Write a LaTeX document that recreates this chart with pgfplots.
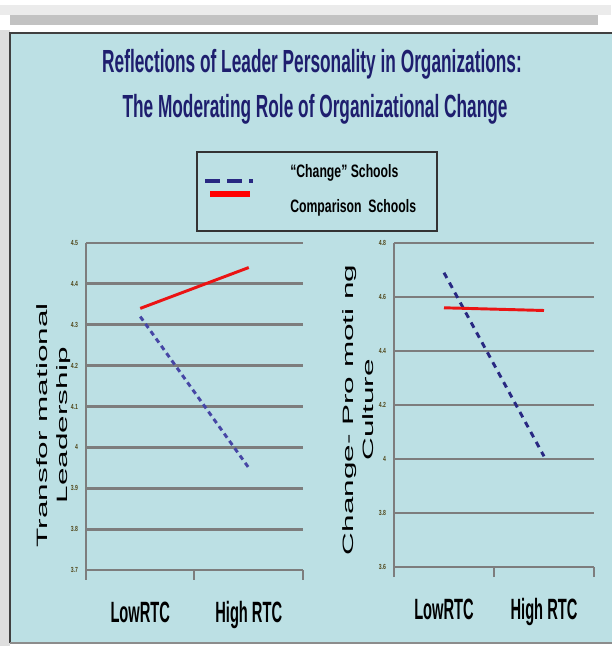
\documentclass[border=0pt]{standalone}
\usepackage{fontspec}
\setmainfont{Liberation Sans}
\newfontfamily\titlefont[FakeStretch=0.54]{Liberation Sans}
\newfontfamily\tickfont[FakeStretch=0.5]{Liberation Sans}
\newfontfamily\legfont[FakeStretch=0.68]{Liberation Sans}
\newfontfamily\labfont[FakeStretch=2.1]{Liberation Sans}
\newfontfamily\numfont[FakeStretch=0.7]{Liberation Sans}
\usepackage{pgfplots}
\pgfplotsset{compat=1.18}

\definecolor{panel}{RGB}{188,224,228}
\definecolor{gridgray}{RGB}{125,125,125}
\definecolor{navy}{RGB}{30,30,110}
\definecolor{chgblue}{RGB}{70,70,165}
\definecolor{chgblue2}{RGB}{40,40,130}
\definecolor{cmpred}{RGB}{235,20,20}
\definecolor{tickcol}{RGB}{80,70,25}

\pgfplotsset{
  rtc/.style={
    scale only axis,
    xmin=0, xmax=2,
    axis lines=left,
    axis line style={-, draw=gridgray, line width=1.6pt},
    ymajorgrids,
    grid style={draw=gridgray, line width=2.2pt},
    xtick={0.5,1.5},
    xticklabels={LowRTC, High RTC},
    minor xtick={0,1,2},
    tick align=outside,
    major tick length=2.5pt,
    minor tick length=7.5pt,
    major tick style={draw=none},
    minor tick style={draw=gridgray, line width=1.5pt},
    xticklabel style={font=\tickfont\bfseries\fontsize{22}{22}\selectfont,
      anchor=base, yshift=-37pt},
    /pgf/number format/assume math mode=true,
    yticklabel style={font=\numfont\bfseries\fontsize{5.5}{6}\selectfont, text=tickcol},
    clip=false,
  }
}

\begin{document}
\begin{tikzpicture}
\useasboundingbox (0,0) rectangle (458.25pt,484.5pt);
\begin{scope}[x=0.75pt,y=0.75pt]
  \fill[white] (0,0) rectangle (611,646);
  \fill[black!8] (0,631) rectangle (611,641);
  \fill[black!24] (10,621) rectangle (598,631);
  \fill[black!13] (0,0) rectangle (10,616);
  \fill[panel] (10,3) rectangle (615,613);
  \draw[black!75, line width=1.5pt] (10,3) -- (10,613) -- (615,613);
  \draw[black!45, line width=1pt] (10,3) -- (615,3);
  % title
  \node[anchor=base, text=navy, font=\titlefont\bfseries\fontsize{24}{24}\selectfont]
    at (312,573) {Reflections of Leader Personality in Organizations:};
  \node[anchor=base, text=navy, font=\titlefont\bfseries\fontsize{24}{24}\selectfont]
    at (315,528) {The Moderating Role of Organizational Change};
  % legend box
  \draw[black!80, line width=1.5pt] (197,415) rectangle (437,494);
  \draw[chgblue2, line width=3pt, dash pattern=on 11.25pt off 5.25pt] (205,465) -- (253,465);
  \draw[red, line width=5pt] (210,452) -- (250,452);
  \node[anchor=base west, inner sep=0, font=\legfont\bfseries\fontsize{13.5}{13.5}\selectfont]
    at (290,468) {“Change” Schools};
  \node[anchor=base west, inner sep=0, font=\legfont\bfseries\fontsize{13.5}{13.5}\selectfont]
    at (290,433) {Comparison \ Schools};
\end{scope}

% left panel
\begin{axis}[rtc,
  at={(64.5pt,57pt)}, anchor=south west,
  width=162.75pt, height=245.25pt,
  ymin=3.7, ymax=4.5,
  ytick={3.7,3.8,3.9,4,4.1,4.2,4.3,4.4,4.5},
]
\addplot[chgblue, line width=2.2pt, dash pattern=on 3.75pt off 3pt]
  coordinates {(0.5,4.32) (1.5,3.95)};
\addplot[cmpred, line width=2.2pt]
  coordinates {(0.5,4.34) (1.5,4.44)};
\node[rotate=90, align=center, font=\labfont\fontsize{11.25}{15}\selectfont]
  at (axis description cs:-0.15,0.443) {Transfor mational\\Leadership};
\end{axis}

% right panel
\begin{axis}[rtc,
  at={(295.5pt,59.25pt)}, anchor=south west,
  width=150pt, height=243pt,
  ymin=3.6, ymax=4.8,
  ytick={3.6,3.8,4,4.2,4.4,4.6,4.8},
]
\addplot[chgblue2, line width=2.2pt, dash pattern=on 4.5pt off 4pt]
  coordinates {(0.5,4.69) (1.5,4.01)};
\addplot[cmpred, line width=2.2pt]
  coordinates {(0.5,4.56) (1.5,4.55)};
\node[rotate=90, align=center, font=\labfont\fontsize{11.25}{15}\selectfont]
  at (axis description cs:-0.18,0.485) {Change- Pro moti ng\\Culture};
\end{axis}
\end{tikzpicture}
\end{document}
